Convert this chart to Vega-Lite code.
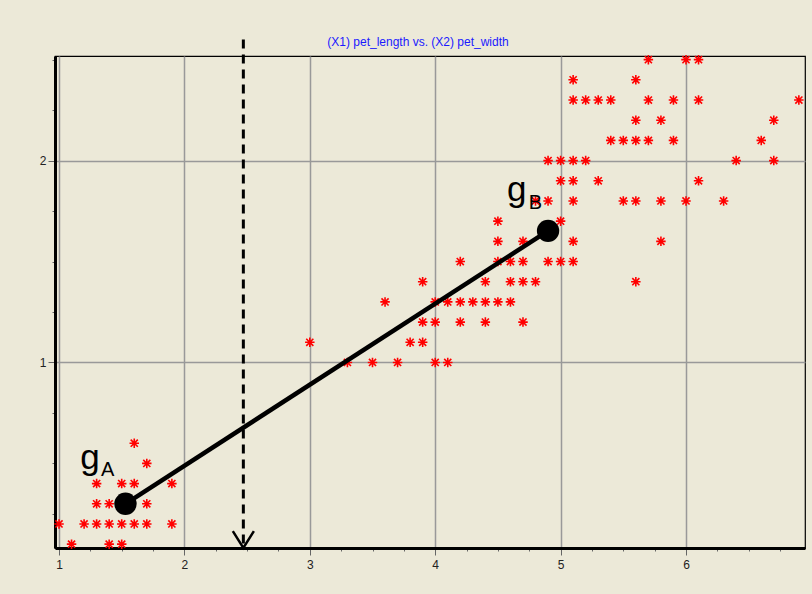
{
  "$schema": "https://vega.github.io/schema/vega-lite/v6.json",
  "width": 750,
  "height": 492,
  "autosize": "none",
  "padding": {"left": 55, "top": 56, "right": 7, "bottom": 46},
  "background": "#ECE9D8",
  "config": {
    "view": {"stroke": "#000000", "strokeWidth": 1.2, "fill": "#ECE9D8"},
    "font": "Liberation Sans"
  },
  "title": {
    "text": "(X1) pet_length vs. (X2) pet_width",
    "color": "#1a1aff",
    "font": "Liberation Sans",
    "fontSize": 12,
    "fontWeight": "normal",
    "frame": "group",
    "offset": -11,
    "dx": -12
  },
  "datasets": {
    "iris": [
      {"pl": 1.1, "pw": 0.1}, {"pl": 1.4, "pw": 0.1}, {"pl": 1.5, "pw": 0.1},
      {"pl": 1.0, "pw": 0.2}, {"pl": 1.2, "pw": 0.2}, {"pl": 1.3, "pw": 0.2}, {"pl": 1.4, "pw": 0.2}, {"pl": 1.5, "pw": 0.2}, {"pl": 1.6, "pw": 0.2}, {"pl": 1.7, "pw": 0.2}, {"pl": 1.9, "pw": 0.2},
      {"pl": 1.3, "pw": 0.3}, {"pl": 1.4, "pw": 0.3}, {"pl": 1.5, "pw": 0.3}, {"pl": 1.7, "pw": 0.3},
      {"pl": 1.3, "pw": 0.4}, {"pl": 1.5, "pw": 0.4}, {"pl": 1.6, "pw": 0.4}, {"pl": 1.9, "pw": 0.4},
      {"pl": 1.7, "pw": 0.5}, {"pl": 1.6, "pw": 0.6},
      {"pl": 3.3, "pw": 1.0}, {"pl": 3.5, "pw": 1.0}, {"pl": 3.7, "pw": 1.0}, {"pl": 4.0, "pw": 1.0}, {"pl": 4.1, "pw": 1.0},
      {"pl": 3.0, "pw": 1.1}, {"pl": 3.8, "pw": 1.1}, {"pl": 3.9, "pw": 1.1},
      {"pl": 3.9, "pw": 1.2}, {"pl": 4.0, "pw": 1.2}, {"pl": 4.2, "pw": 1.2}, {"pl": 4.4, "pw": 1.2}, {"pl": 4.7, "pw": 1.2},
      {"pl": 3.6, "pw": 1.3}, {"pl": 4.0, "pw": 1.3}, {"pl": 4.1, "pw": 1.3}, {"pl": 4.2, "pw": 1.3}, {"pl": 4.3, "pw": 1.3}, {"pl": 4.4, "pw": 1.3}, {"pl": 4.5, "pw": 1.3}, {"pl": 4.6, "pw": 1.3},
      {"pl": 3.9, "pw": 1.4}, {"pl": 4.4, "pw": 1.4}, {"pl": 4.6, "pw": 1.4}, {"pl": 4.7, "pw": 1.4}, {"pl": 4.8, "pw": 1.4}, {"pl": 5.6, "pw": 1.4},
      {"pl": 4.2, "pw": 1.5}, {"pl": 4.5, "pw": 1.5}, {"pl": 4.6, "pw": 1.5}, {"pl": 4.7, "pw": 1.5}, {"pl": 4.9, "pw": 1.5}, {"pl": 5.0, "pw": 1.5}, {"pl": 5.1, "pw": 1.5},
      {"pl": 4.5, "pw": 1.6}, {"pl": 4.7, "pw": 1.6}, {"pl": 5.1, "pw": 1.6}, {"pl": 5.8, "pw": 1.6},
      {"pl": 4.5, "pw": 1.7}, {"pl": 5.0, "pw": 1.7},
      {"pl": 4.8, "pw": 1.8}, {"pl": 4.9, "pw": 1.8}, {"pl": 5.1, "pw": 1.8}, {"pl": 5.5, "pw": 1.8}, {"pl": 5.6, "pw": 1.8}, {"pl": 5.8, "pw": 1.8}, {"pl": 6.0, "pw": 1.8}, {"pl": 6.3, "pw": 1.8},
      {"pl": 5.0, "pw": 1.9}, {"pl": 5.1, "pw": 1.9}, {"pl": 5.3, "pw": 1.9}, {"pl": 6.1, "pw": 1.9},
      {"pl": 4.9, "pw": 2.0}, {"pl": 5.0, "pw": 2.0}, {"pl": 5.1, "pw": 2.0}, {"pl": 5.2, "pw": 2.0}, {"pl": 6.4, "pw": 2.0}, {"pl": 6.7, "pw": 2.0},
      {"pl": 5.4, "pw": 2.1}, {"pl": 5.5, "pw": 2.1}, {"pl": 5.6, "pw": 2.1}, {"pl": 5.7, "pw": 2.1}, {"pl": 5.9, "pw": 2.1}, {"pl": 6.6, "pw": 2.1},
      {"pl": 5.6, "pw": 2.2}, {"pl": 5.8, "pw": 2.2}, {"pl": 6.7, "pw": 2.2},
      {"pl": 5.1, "pw": 2.3}, {"pl": 5.2, "pw": 2.3}, {"pl": 5.3, "pw": 2.3}, {"pl": 5.4, "pw": 2.3}, {"pl": 5.7, "pw": 2.3}, {"pl": 5.9, "pw": 2.3}, {"pl": 6.1, "pw": 2.3}, {"pl": 6.9, "pw": 2.3},
      {"pl": 5.1, "pw": 2.4}, {"pl": 5.6, "pw": 2.4},
      {"pl": 5.7, "pw": 2.5}, {"pl": 6.0, "pw": 2.5}, {"pl": 6.1, "pw": 2.5}
    ],
    "centroids": [
      {"name": "A", "pl": 1.53, "pw": 0.30},
      {"name": "B", "pl": 4.90, "pw": 1.652}
    ],
    "split": [{"pl": 2.47, "pw": 2.6, "pw2": 0.081}],
    "arrow": [
      {"pl": 2.386, "pw": 0.165, "o": 1},
      {"pl": 2.47, "pw": 0.081, "o": 2},
      {"pl": 2.554, "pw": 0.165, "o": 3}
    ],
    "labels": [
      {"pl": 1.17, "pw": 0.474, "t": "g", "role": "main"},
      {"pl": 1.335, "pw": 0.436, "t": "A", "role": "sub"},
      {"pl": 4.573, "pw": 1.80, "t": "g", "role": "main"},
      {"pl": 4.746, "pw": 1.761, "t": "B", "role": "sub"}
    ]
  },
  "encoding": {
    "x": {
      "field": "pl",
      "type": "quantitative",
      "scale": {"domain": [0.968, 6.949], "nice": false, "zero": false},
      "axis": {
        "title": null,
        "values": [1, 1.25, 1.5, 1.75, 2, 2.25, 2.5, 2.75, 3, 3.25, 3.5, 3.75, 4, 4.25, 4.5, 4.75, 5, 5.25, 5.5, 5.75, 6, 6.25, 6.5, 6.75],
        "labelExpr": "datum.value % 1 === 0 ? '' + datum.value : ''",
        "labelFont": "Liberation Sans",
        "labelFontSize": 12,
        "labelColor": "#222222",
        "labelPadding": 4,
        "labelFlush": false,
        "domainColor": "#000000",
        "domainWidth": 3,
        "tickColor": "#666666",
        "tickWidth": 1,
        "tickSize": {"condition": {"test": "datum.value % 1 === 0", "value": 7}, "value": 3},
        "grid": true,
        "gridColor": "#999999",
        "gridWidth": 1.5,
        "gridOpacity": {"condition": {"test": "datum.value % 1 === 0", "value": 1}, "value": 0}
      }
    },
    "y": {
      "field": "pw",
      "type": "quantitative",
      "scale": {"domain": [0.081, 2.518], "nice": false, "zero": false},
      "axis": {
        "title": null,
        "values": [0.25, 0.5, 0.75, 1, 1.25, 1.5, 1.75, 2, 2.25, 2.5],
        "labelExpr": "datum.value % 1 === 0 ? '' + datum.value : ''",
        "labelFont": "Liberation Sans",
        "labelFontSize": 12,
        "labelColor": "#222222",
        "labelPadding": 2,
        "labelFlush": false,
        "domainColor": "#000000",
        "domainWidth": 3,
        "tickColor": "#666666",
        "tickWidth": 1,
        "tickSize": {"condition": {"test": "datum.value % 1 === 0", "value": 7}, "value": 3},
        "grid": true,
        "gridColor": "#999999",
        "gridWidth": 1.5,
        "gridOpacity": {"condition": {"test": "datum.value % 1 === 0", "value": 1}, "value": 0}
      }
    }
  },
  "layer": [
    {
      "data": {"name": "iris"},
      "mark": {
        "type": "point",
        "shape": "M-1,0L1,0M0,-1L0,1M-0.75,-0.75L0.75,0.75M-0.75,0.75L0.75,-0.75",
        "filled": false,
        "stroke": "#ff0000",
        "strokeWidth": 1.6,
        "size": 90,
        "opacity": 1
      }
    },
    {
      "data": {"name": "centroids"},
      "mark": {"type": "line", "color": "#000000", "strokeWidth": 4.5}
    },
    {
      "data": {"name": "centroids"},
      "mark": {"type": "point", "filled": true, "color": "#000000", "size": 500, "opacity": 1, "shape": "circle"}
    },
    {
      "data": {"name": "split"},
      "mark": {"type": "rule", "color": "#000000", "strokeWidth": 3, "strokeDash": [9, 6], "clip": false},
      "encoding": {"y2": {"field": "pw2"}}
    },
    {
      "data": {"name": "arrow"},
      "mark": {"type": "line", "color": "#000000", "strokeWidth": 2.5, "clip": false},
      "encoding": {"order": {"field": "o", "type": "quantitative"}}
    },
    {
      "data": {"name": "labels"},
      "transform": [{"filter": "datum.role === 'main'"}],
      "mark": {"type": "text", "font": "Liberation Sans", "fontSize": 35, "align": "left", "baseline": "alphabetic", "color": "#000000"},
      "encoding": {"text": {"field": "t"}}
    },
    {
      "data": {"name": "labels"},
      "transform": [{"filter": "datum.role === 'sub'"}],
      "mark": {"type": "text", "font": "Liberation Sans", "fontSize": 20, "align": "left", "baseline": "alphabetic", "color": "#000000"},
      "encoding": {"text": {"field": "t"}}
    }
  ]
}
